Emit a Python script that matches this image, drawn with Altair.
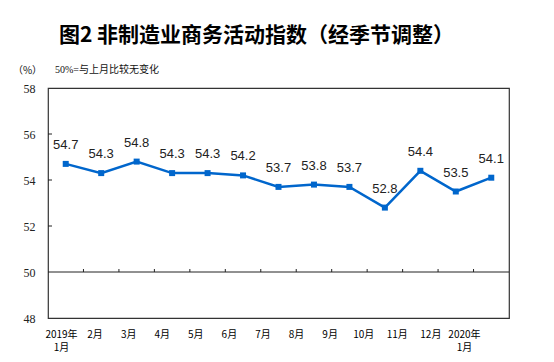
import altair as alt
import pandas as pd

months = ["2019年|1月", "2月", "3月", "4月", "5月", "6月", "7月", "8月", "9月",
          "10月", "11月", "12月", "2020年|1月"]
values = [54.7, 54.3, 54.8, 54.3, 54.3, 54.2, 53.7, 53.8, 53.7, 52.8, 54.4, 53.5, 54.1]
y_ticks = [48, 50, 52, 54, 56, 58]
inner_y_ticks = [52, 54, 56]
baseline = 50

df = pd.DataFrame({"month": months, "value": values})
tick_df = pd.DataFrame({"month": months[1:], "y": [baseline] * 12, "y2": [baseline + 0.13] * 12})
ytick_df = pd.DataFrame({"y": inner_y_ticks})

xscale = alt.Scale(type="band", paddingInner=0, paddingOuter=0, domain=months)
# category labels are spread slightly narrower than the bands, as in the original
label_scale = alt.Scale(type="point", padding=0.865, align=0.224, domain=months)
yscale = alt.Scale(domain=[48, 58], nice=False, zero=False)

x_axis = alt.Axis(labelAngle=0, ticks=False, domain=False, grid=False,
                  labelExpr="split(datum.label, '|')", labelPadding=11,
                  labelFont="Noto Sans CJK SC", labelFontSize=10, labelLineHeight=13,
                  labelColor="#000", title=None, labelOverlap=False)
y_axis = alt.Axis(values=y_ticks, ticks=False, domain=False, grid=False,
                  labelFont="Liberation Serif", labelFontSize=12, labelPadding=13,
                  labelColor="#222", title="（%）", titleAngle=0, titleX=-21, titleY=-18,
                  titleAlign="center", titleBaseline="middle", titleFont="Noto Sans CJK SC",
                  titleFontSize=10, titleFontWeight="normal", titleColor="#111")

base = alt.Chart(df)

xlabels = base.mark_point(opacity=0).encode(
    x=alt.X("month:N", sort=months, scale=label_scale, axis=x_axis),
    y=alt.Y("value:Q", scale=yscale, axis=y_axis),
)
line = base.mark_line(color="#0066CC", strokeWidth=2.5).encode(
    x=alt.X("month:N", sort=months, scale=xscale, axis=None),
    y=alt.Y("value:Q", scale=yscale),
)
points = base.mark_square(color="#0066CC", size=36, opacity=1).encode(
    x=alt.X("month:N", sort=months, scale=xscale, axis=None),
    y=alt.Y("value:Q", scale=yscale),
)
labels = base.mark_text(font="Liberation Sans", fontSize=13, dy=-19, color="#222",
                        baseline="middle").encode(
    x=alt.X("month:N", sort=months, scale=xscale, axis=None),
    y=alt.Y("value:Q", scale=yscale),
    text=alt.Text("value:Q", format=".1f"),
)
base_rule = alt.Chart(pd.DataFrame({"y": [baseline]})).mark_rule(color="#222", strokeWidth=1).encode(
    y=alt.Y("y:Q", scale=yscale)
)
xticks = alt.Chart(tick_df).mark_rule(color="#222", strokeWidth=1).encode(
    x=alt.X("month:N", sort=months, scale=xscale, bandPosition=0, axis=None),
    y=alt.Y("y:Q", scale=yscale),
    y2="y2:Q",
)
yticks = alt.Chart(ytick_df).mark_rule(color="#222", strokeWidth=1).encode(
    y=alt.Y("y:Q", scale=yscale),
    x=alt.value(0),
    x2=alt.value(4),
)
note = alt.Chart(pd.DataFrame({"t": ["50%=与上月比较无变化"]})).mark_text(
    align="left", baseline="middle", font="Liberation Serif, Noto Sans CJK SC",
    fontSize=10, color="#111"
).encode(text="t:N", x=alt.value(7), y=alt.value(-18))

data_layers = alt.layer(base_rule, xticks, yticks, line, points, labels, note)

chart = alt.layer(xlabels, data_layers).resolve_scale(x="independent").properties(
    width=461, height=230,
    autosize=alt.AutoSizeParams(type="none"),
    padding={"left": 40, "top": 80, "right": 30, "bottom": 36},
    title=alt.TitleParams("图2 非制造业商务活动指数（经季节调整）", font="Noto Sans CJK SC",
                          fontSize=21, fontWeight="bold", color="#000", anchor="middle",
                          offset=19, dx=-22),
).configure_view(stroke="#333", strokeWidth=1.2)

chart.save("out.html", embed_options={"renderer": "svg", "actions": False})
